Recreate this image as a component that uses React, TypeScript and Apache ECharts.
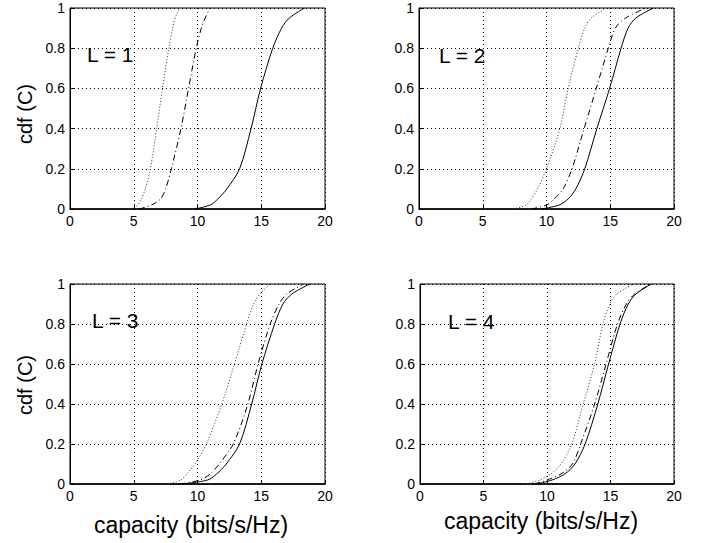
import React, { useEffect, useRef } from "react";
import * as echarts from "echarts";

const cdfLevels = [0, 0.02, 0.05, 0.1, 0.2, 0.4, 0.6, 0.8, 0.9, 0.95, 1];

// L = 1
const l1Dotted = [4.8, 5.3, 5.6, 5.9, 6.3, 6.8, 7.25, 7.75, 8.05, 8.25, 8.6];
const l1DashDot = [5.4, 6.4, 7.1, 7.5, 7.95, 8.7, 9.3, 9.9, 10.3, 10.6, 11.0];
const l1Solid = [9.8, 11.0, 11.6, 12.3, 13.3, 14.2, 14.95, 15.9, 16.6, 17.2, 18.4];
// L = 2
const l2Dotted = [7.4, 8.4, 8.8, 9.3, 10.0, 11.05, 11.7, 12.5, 13.0, 13.5, 14.7];
const l2DashDot = [8.8, 10.0, 10.6, 11.3, 12.0, 12.95, 13.9, 14.85, 15.4, 16.2, 17.8];
const l2Solid = [9.6, 11.0, 11.7, 12.3, 13.0, 13.95, 14.95, 15.85, 16.4, 17.0, 18.4];
// L = 3
const l3Dotted = [7.6, 8.7, 9.15, 9.8, 10.7, 11.9, 12.9, 13.85, 14.4, 14.9, 15.7];
const l3DashDot = [8.6, 10.2, 11.0, 11.7, 12.8, 13.95, 14.75, 15.7, 16.4, 17.0, 18.3];
const l3Solid = [8.8, 10.8, 11.5, 12.25, 13.3, 14.25, 15.05, 16.05, 16.7, 17.4, 18.8];
// L = 4
const l4Dotted = [8.4, 9.45, 10.3, 11.1, 11.95, 12.85, 13.75, 14.4, 14.95, 15.5, 16.8];
const l4DashDot = [9.0, 10.0, 11.1, 12.0, 12.65, 13.75, 14.65, 15.55, 16.25, 16.9, 18.2];
const l4Solid = [9.2, 10.4, 11.4, 12.2, 13.0, 14.0, 14.85, 15.75, 16.4, 17.0, 18.2];

const panelTitles = ["L = 1", "L = 2", "L = 3", "L = 4"];
const yAxisTitle = "cdf (C)";
const xAxisTitle = "capacity (bits/s/Hz)";

const panels = [
  [l1Dotted, l1DashDot, l1Solid],
  [l2Dotted, l2DashDot, l2Solid],
  [l3Dotted, l3DashDot, l3Solid],
  [l4Dotted, l4DashDot, l4Solid],
];

const FONT = "'Liberation Sans', Arial, Helvetica, sans-serif";

export default function App() {
  const ref = useRef<HTMLDivElement>(null);
  useEffect(() => {
    if (!ref.current) return;
    const chart = echarts.init(ref.current, null, { renderer: "svg" });
    const grids = [
      { left: 70, top: 8, width: 255, height: 201 },
      { left: 419, top: 8, width: 255, height: 201 },
      { left: 70, top: 284, width: 255, height: 200 },
      { left: 420, top: 284, width: 254, height: 200 },
    ].map((g) => ({ ...g, show: true, borderColor: "#000", borderWidth: 1, backgroundColor: "#fff" }));

    const splitLine = { show: true, lineStyle: { color: "#000", type: [1, 3] as any, width: 1 } };
    const axisLabel = { color: "#000", fontSize: 14, fontFamily: FONT };

    const xAxis = grids.map((_, i) => ({
      type: "value",
      gridIndex: i,
      min: 0,
      max: 20,
      interval: 5,
      axisLine: { show: true, lineStyle: { color: "#000", width: 1.5 } },
      axisTick: { show: true, inside: true, length: 4, lineStyle: { color: "#000" } },
      axisLabel: { ...axisLabel, margin: 5 },
      splitLine,
    }));
    const yAxis = grids.map((_, i) => ({
      type: "value",
      gridIndex: i,
      min: 0,
      max: 1,
      interval: 0.2,
      axisLine: { show: true, lineStyle: { color: "#000", width: 1 } },
      axisTick: { show: true, inside: true, length: 4, lineStyle: { color: "#000" } },
      axisLabel: { ...axisLabel, margin: 5, formatter: (v: number) => (v === 0 || v === 1 ? String(v) : v.toFixed(1)) },
      splitLine,
    }));

    const styles = [
      { color: "#333", type: [1, 2] as any, width: 1 },
      { color: "#000", type: [6, 3, 1, 3] as any, width: 1 },
      { color: "#000", type: "solid", width: 1 },
    ];
    const series: any[] = [];
    panels.forEach((curves, p) => {
      curves.forEach((xs, k) => {
        series.push({
          type: "line",
          xAxisIndex: p,
          yAxisIndex: p,
          data: xs.map((x, j) => [x, cdfLevels[j]]),
          showSymbol: false,
          smooth: 0.3,
          lineStyle: styles[k],
          z: 3,
        });
      });
    });

    const titlePos = [
      [87, 54],
      [439, 55],
      [92, 320],
      [448, 321],
    ];
    const graphic: any[] = [];
    panelTitles.forEach((t, i) => {
      graphic.push({
        type: "text",
        x: titlePos[i][0],
        y: titlePos[i][1],
        z: 10,
        style: { text: t, fontSize: 21, fontFamily: FONT, fill: "#000", verticalAlign: "middle" },
      });
    });
    [
      [25, 114],
      [25, 385],
    ].forEach(([x, y]) => {
      graphic.push({
        type: "text",
        x,
        y,
        rotation: Math.PI / 2,
        style: { text: yAxisTitle, fontSize: 20, fontFamily: FONT, fill: "#000", align: "center", verticalAlign: "middle" },
      });
    });
    [
      [191, 525],
      [541, 521],
    ].forEach(([x, y]) => {
      graphic.push({
        type: "text",
        x,
        y,
        style: { text: xAxisTitle, fontSize: 23, fontFamily: FONT, fill: "#000", align: "center", verticalAlign: "middle" },
      });
    });

    chart.setOption({
      animation: false,
      backgroundColor: "#fff",
      grid: grids,
      xAxis,
      yAxis,
      series,
      graphic,
    });
    return () => chart.dispose();
  }, []);
  return <div ref={ref} style={{ position: "fixed", left: 0, top: 0, width: 704, height: 543 }} />;
}
